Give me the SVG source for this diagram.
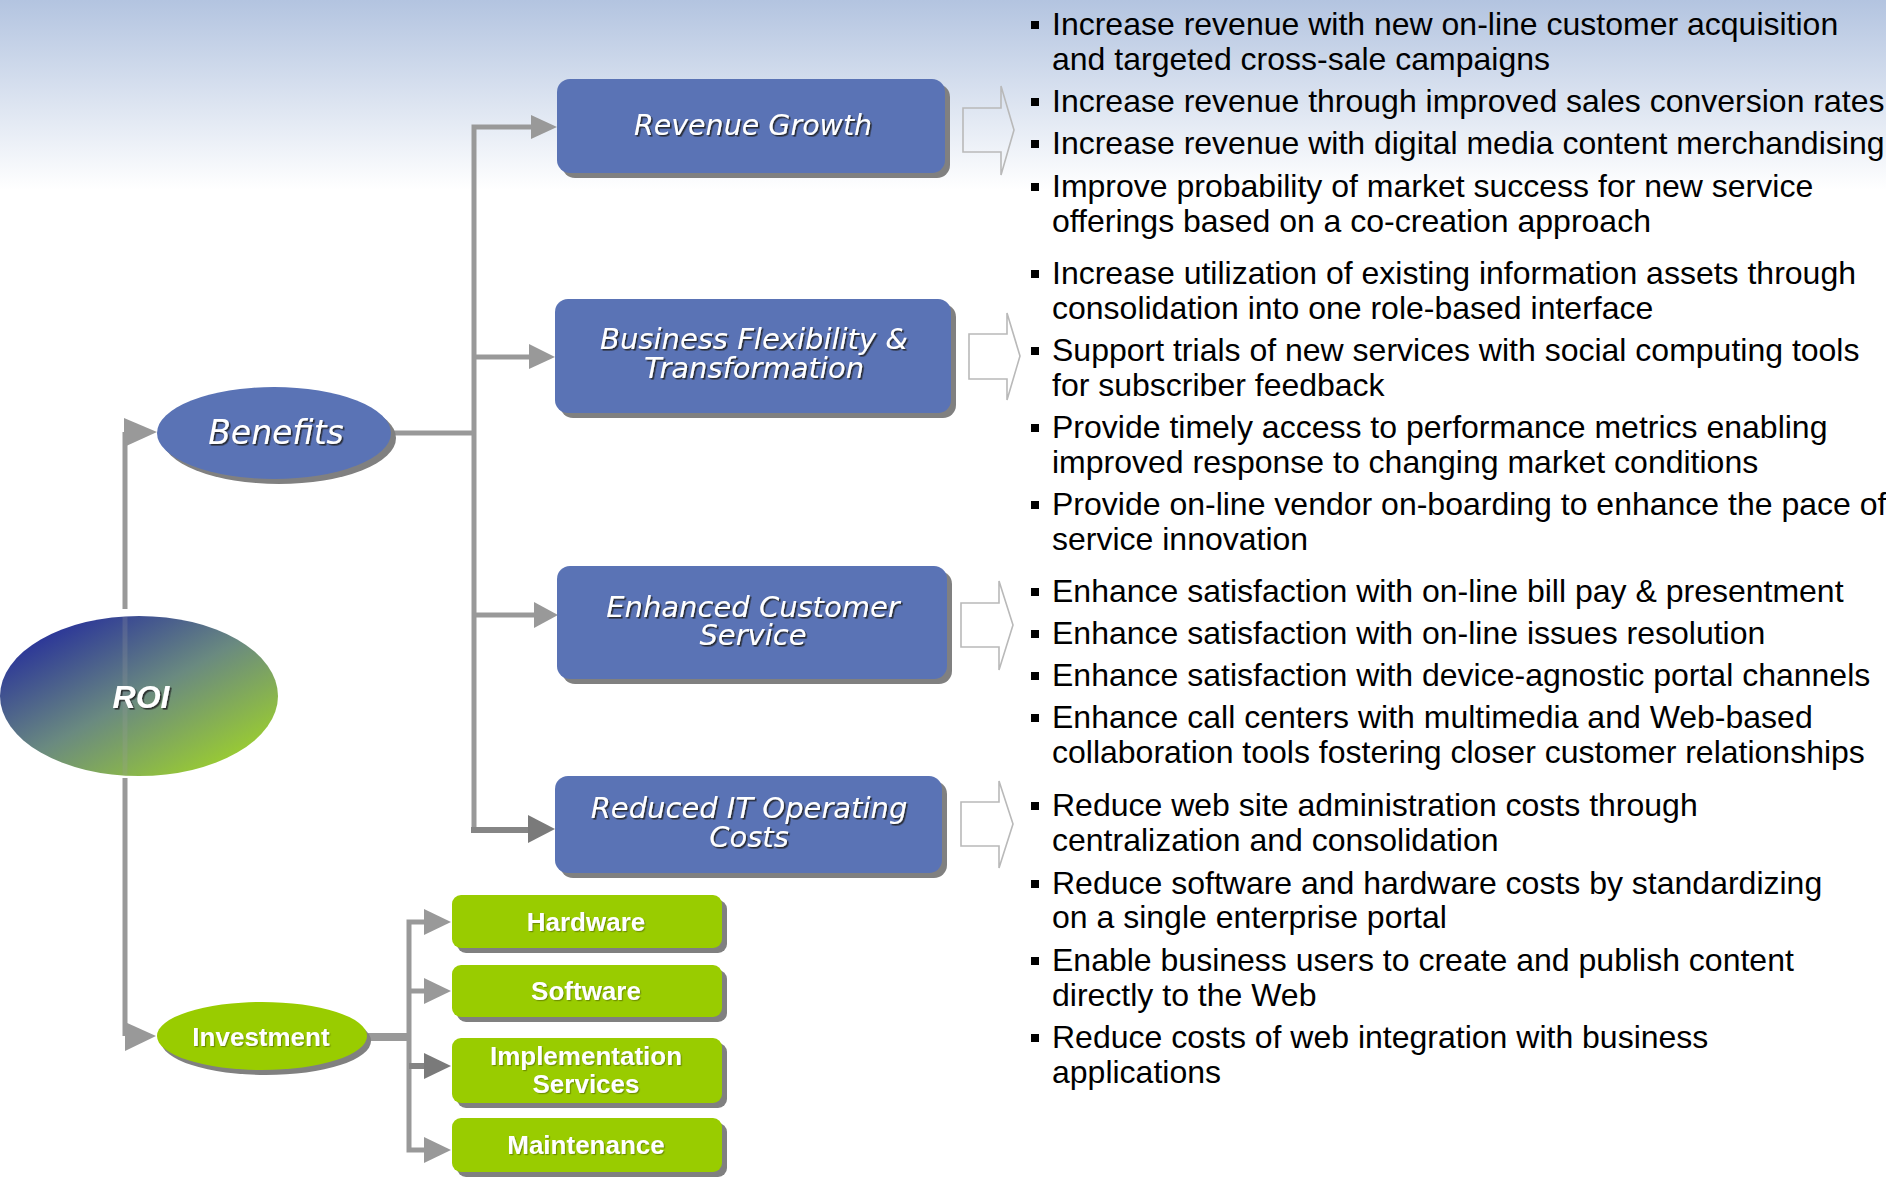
<svg xmlns="http://www.w3.org/2000/svg" width="1886" height="1178" viewBox="0 0 1886 1178">
  <defs>
    <linearGradient id="sky" x1="0" y1="0" x2="0" y2="1">
      <stop offset="0" stop-color="#b3c4e0"/>
      <stop offset="1" stop-color="#ffffff"/>
    </linearGradient>
    <linearGradient id="roiFill" x1="0.12" y1="0.1" x2="0.88" y2="0.9">
      <stop offset="0" stop-color="#27309a"/>
      <stop offset="0.5" stop-color="#6a8a80"/>
      <stop offset="1" stop-color="#9ccf2e"/>
    </linearGradient>
    <filter id="txtShadow" x="-10%" y="-20%" width="120%" height="150%">
      <feDropShadow dx="1.6" dy="1.6" stdDeviation="0.4" flood-color="#1a1a1a" flood-opacity="0.85"/>
    </filter>
    <filter id="txtShadowLight" x="-10%" y="-20%" width="120%" height="150%">
      <feDropShadow dx="1.2" dy="1.2" stdDeviation="0.4" flood-color="#556b00" flood-opacity="0.6"/>
    </filter>
    <style>
      .blue { fill: #5a73b5; }
      .green { fill: #99cc00; }
      .shade { fill: #808080; }
      .ital { font-family: "DejaVu Sans", Verdana, sans-serif; font-style: italic; fill: #ffffff; text-anchor: middle; filter: url(#txtShadow); }
      .bold { font-family: "Liberation Sans", Arial, sans-serif; font-weight: bold; font-size: 26px; fill: #ffffff; text-anchor: middle; filter: url(#txtShadowLight); }
      .wire { fill: none; stroke: #999999; stroke-width: 5; stroke-linejoin: miter; }
      .wireDark { fill: none; stroke: #858585; stroke-width: 6; }
      .head { fill: #999999; }
      .headDark { fill: #7a7a7a; }
      .hollow { fill: none; stroke: #b9b9b9; stroke-width: 1.6; stroke-linejoin: miter; }
      .bullets text { font-family: "Liberation Sans", Arial, sans-serif; font-size: 32px; fill: #000000; }
      .bullets rect { fill: #000000; }
    </style>
  </defs>

  <!-- page background -->
  <rect x="0" y="0" width="1886" height="1178" fill="#ffffff"/>
  <rect x="0" y="0" width="1886" height="190" fill="url(#sky)"/>

  <!-- connectors -->
  <g id="connectors">
    <!-- ROI to Benefits -->
    <path class="wire" d="M125,609 V432"/>
    <polygon class="head" points="124,418 157,432 124,447"/>
    <!-- ROI to Investment -->
    <path class="wire" d="M125,778 V1036"/>
    <polygon class="head" points="125,1022 156,1036 125,1051"/>

    <!-- Benefits branch -->
    <path class="wire" d="M390,433 H474"/>
    <path class="wire" d="M533,127 H474 V830"/>
    <polygon class="head" points="531,115 557,127 531,139"/>
    <path class="wire" d="M474,357 H531"/>
    <polygon class="head" points="529,344 555,357 529,369"/>
    <path class="wire" d="M474,615 H536"/>
    <polygon class="head" points="534,602 558,615 534,628"/>
    <path class="wireDark" d="M471,830 H531"/>
    <polygon class="headDark" points="528,815 555,829 528,843"/>

    <!-- Investment branch -->
    <path class="wire" d="M365,1037 H409" style="stroke-width:8"/>
    <path class="wire" d="M427,922 H409 V1150 H427"/>
    <polygon class="head" points="424,909 451,922 424,935"/>
    <path class="wire" d="M409,991 H427"/>
    <polygon class="head" points="424,978 451,991 424,1004"/>
    <path class="wireDark" d="M409,1066 H427"/>
    <polygon class="headDark" points="424,1053 451,1066 424,1079"/>
    <polygon class="head" points="424,1137 451,1150 424,1163"/>

    <!-- hollow block arrows toward bullet lists -->
    <polygon class="hollow" points="963,108 1001,108 1001,86 1014,130 1001,175 1001,152 963,152"/>
    <polygon class="hollow" points="969,334 1007,334 1007,313 1020,356 1007,400 1007,379 969,379"/>
    <polygon class="hollow" points="961,603 999,603 999,581 1013,625 999,670 999,647 961,647"/>
    <polygon class="hollow" points="961,802 999,802 999,781 1013,824 999,868 999,846 961,846"/>
  </g>

  <!-- ROI root -->
  <g id="roi">
    <ellipse cx="139" cy="696" rx="139" ry="80" fill="url(#roiFill)"/>
    <rect x="122.5" y="617" width="5" height="158" fill="#a0a0a0" opacity="0.22"/>
    <text x="141" y="708" font-family="Liberation Sans, Arial, sans-serif" font-size="32" font-weight="bold" font-style="italic" fill="#ffffff" text-anchor="middle" filter="url(#txtShadow)">ROI</text>
  </g>

  <!-- Benefits -->
  <g id="benefits">
    <ellipse class="shade" cx="279" cy="438" rx="117" ry="46"/>
    <ellipse class="blue" cx="274" cy="433" rx="117" ry="46"/>
    <text class="ital" x="276" y="444" font-size="33">Benefits</text>
  </g>

  <!-- Investment -->
  <g id="investment">
    <ellipse class="shade" cx="266" cy="1041" rx="105" ry="34"/>
    <ellipse class="green" cx="262" cy="1036" rx="105" ry="34"/>
    <text class="bold" x="261" y="1046">Investment</text>
  </g>

  <!-- benefit categories -->
  <g id="revenue-growth">
    <rect class="shade" x="562" y="84" width="388" height="94" rx="13"/>
    <rect class="blue" x="557" y="79" width="388" height="94" rx="13"/>
    <text class="ital" x="753" y="135" font-size="28.5">Revenue Growth</text>
  </g>

  <g id="business-flexibility">
    <rect class="shade" x="560" y="304" width="396" height="114" rx="13"/>
    <rect class="blue" x="555" y="299" width="396" height="114" rx="13"/>
    <text class="ital" font-size="29"><tspan x="754" y="349">Business Flexibility &amp;</tspan><tspan x="754" y="378">Transformation</tspan></text>
  </g>

  <g id="customer-service">
    <rect class="shade" x="562" y="571" width="390" height="113" rx="13"/>
    <rect class="blue" x="557" y="566" width="390" height="113" rx="13"/>
    <text class="ital" font-size="29"><tspan x="753" y="617">Enhanced Customer</tspan><tspan x="753" y="645">Service</tspan></text>
  </g>

  <g id="reduced-it-costs">
    <rect class="shade" x="560" y="781" width="387" height="97" rx="13"/>
    <rect class="blue" x="555" y="776" width="387" height="97" rx="13"/>
    <text class="ital" font-size="29"><tspan x="749" y="818">Reduced IT Operating</tspan><tspan x="749" y="847">Costs</tspan></text>
  </g>

  <!-- investment categories -->
  <g id="hardware">
    <rect class="shade" x="457" y="900" width="270" height="53" rx="9"/>
    <rect class="green" x="452" y="895" width="270" height="53" rx="9"/>
    <text class="bold" x="586" y="931">Hardware</text>
  </g>

  <g id="software">
    <rect class="shade" x="457" y="970" width="270" height="52" rx="9"/>
    <rect class="green" x="452" y="965" width="270" height="52" rx="9"/>
    <text class="bold" x="586" y="1000">Software</text>
  </g>

  <g id="implementation-services">
    <rect class="shade" x="457" y="1043" width="270" height="65" rx="9"/>
    <rect class="green" x="452" y="1038" width="270" height="65" rx="9"/>
    <text class="bold"><tspan x="586" y="1065">Implementation</tspan><tspan x="586" y="1093">Services</tspan></text>
  </g>

  <g id="maintenance">
    <rect class="shade" x="457" y="1123" width="270" height="54" rx="9"/>
    <rect class="green" x="452" y="1118" width="270" height="54" rx="9"/>
    <text class="bold" x="586" y="1154">Maintenance</text>
  </g>

  <!-- bullet lists -->
  <g id="revenue-points" class="bullets">
    <rect x="1031" y="21" width="8" height="8"/>
    <text x="1052" y="35">Increase revenue with new on-line customer acquisition</text>
    <text x="1052" y="70">and targeted cross-sale campaigns</text>
    <rect x="1031" y="98" width="8" height="8"/>
    <text x="1052" y="112">Increase revenue through improved sales conversion rates</text>
    <rect x="1031" y="140" width="8" height="8"/>
    <text x="1052" y="154">Increase revenue with digital media content merchandising</text>
    <rect x="1031" y="183" width="8" height="8"/>
    <text x="1052" y="197">Improve probability of market success for new service</text>
    <text x="1052" y="232">offerings based on a co-creation approach</text>
  </g>

  <g id="flexibility-points" class="bullets">
    <rect x="1031" y="270" width="8" height="8"/>
    <text x="1052" y="284">Increase utilization of existing information assets through</text>
    <text x="1052" y="319">consolidation into one role-based interface</text>
    <rect x="1031" y="347" width="8" height="8"/>
    <text x="1052" y="361">Support trials of new services with social computing tools</text>
    <text x="1052" y="396">for subscriber feedback</text>
    <rect x="1031" y="424" width="8" height="8"/>
    <text x="1052" y="438">Provide timely access to performance metrics enabling</text>
    <text x="1052" y="473">improved response to changing market conditions</text>
    <rect x="1031" y="501" width="8" height="8"/>
    <text x="1052" y="515">Provide on-line vendor on-boarding to enhance the pace of</text>
    <text x="1052" y="550">service innovation</text>
  </g>

  <g id="service-points" class="bullets">
    <rect x="1031" y="588" width="8" height="8"/>
    <text x="1052" y="602">Enhance satisfaction with on-line bill pay &amp; presentment</text>
    <rect x="1031" y="630" width="8" height="8"/>
    <text x="1052" y="644">Enhance satisfaction with on-line issues resolution</text>
    <rect x="1031" y="672" width="8" height="8"/>
    <text x="1052" y="686">Enhance satisfaction with device-agnostic portal channels</text>
    <rect x="1031" y="714" width="8" height="8"/>
    <text x="1052" y="728">Enhance call centers with multimedia and Web-based</text>
    <text x="1052" y="763">collaboration tools fostering closer customer relationships</text>
  </g>

  <g id="cost-points" class="bullets">
    <rect x="1031" y="802" width="8" height="8"/>
    <text x="1052" y="816">Reduce web site administration costs through</text>
    <text x="1052" y="851">centralization and consolidation</text>
    <rect x="1031" y="880" width="8" height="8"/>
    <text x="1052" y="894">Reduce software and hardware costs by standardizing</text>
    <text x="1052" y="928">on a single enterprise portal</text>
    <rect x="1031" y="957" width="8" height="8"/>
    <text x="1052" y="971">Enable business users to create and publish content</text>
    <text x="1052" y="1006">directly to the Web</text>
    <rect x="1031" y="1034" width="8" height="8"/>
    <text x="1052" y="1048">Reduce costs of web integration with business</text>
    <text x="1052" y="1083">applications</text>
  </g>
</svg>
